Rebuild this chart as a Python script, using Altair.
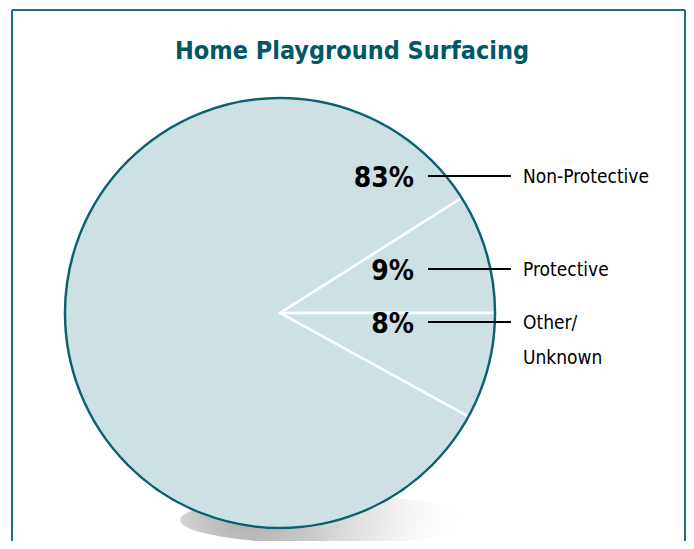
import math
import altair as alt
import pandas as pd

# ---- data ----
categories = ["Protective", "Other/Unknown", "Non-Protective"]
values = [9, 8, 83]
pct_labels = ["9%", "8%", "83%"]
legend_labels = ["Protective", "Other/\nUnknown", "Non-Protective"]
title_text = "Home Playground Surfacing"

df = pd.DataFrame({"category": categories, "value": values, "order": [0, 1, 2]})

# ---- style / layout ----
W, H = 678, 533
CX, CY, R = 272, 305, 215
FILL = "#cde0e3"
TEAL = "#0c6170"
FRAME = "#1c6e7d"
COND = "DejaVu Sans Condensed, Liberation Sans Narrow, sans-serif"

total = sum(values)
start = math.pi / 2 - 2 * math.pi * values[0] / total

base = alt.Chart(df)

pie = base.mark_arc(radius=R, fill=FILL, stroke="white", strokeWidth=2.5).encode(
    theta=alt.Theta("value:Q", stack=True,
                    scale=alt.Scale(range=[start, start + 2 * math.pi])),
    order=alt.Order("order:Q"),
    x=alt.value(CX), y=alt.value(CY),
)

one = alt.Chart(alt.Data(values=[{"k": 1}]))

outline = one.mark_arc(radius=R, theta=0, theta2=2 * math.pi, fillOpacity=0,
                       stroke=TEAL, strokeWidth=2.5).encode(
    x=alt.value(CX), y=alt.value(CY))

shadow_path = "M-1,0 A1,0.16,0,1,0,1,0 A1,0.16,0,1,0,-1,0 Z"
shadow = one.mark_point(
    shape=shadow_path, size=300 * 300, filled=True, opacity=1, strokeWidth=0,
    fill=alt.RadialGradient(
        gradient="radial", x1=0.22, y1=0.45, r1=0, x2=0.33, y2=0.45, r2=0.7,
        stops=[alt.GradientStop(color="rgba(150,150,150,0.85)", offset=0),
               alt.GradientStop(color="rgba(180,180,180,0.7)", offset=0.3),
               alt.GradientStop(color="rgba(210,210,210,0.5)", offset=0.55),
               alt.GradientStop(color="rgba(235,235,235,0.25)", offset=0.75),
               alt.GradientStop(color="rgba(255,255,255,0)", offset=0.95)]),
).encode(x=alt.value(322), y=alt.value(512))

frame = [
    one.mark_rule(color=FRAME, strokeWidth=2).encode(x=alt.value(4), x2=alt.value(677), y=alt.value(2)),
    one.mark_rule(color=FRAME, strokeWidth=2).encode(x=alt.value(4), y=alt.value(2), y2=alt.value(H)),
    one.mark_rule(color=FRAME, strokeWidth=2).encode(x=alt.value(677), y=alt.value(2), y2=alt.value(H)),
]

title = one.mark_text(text=title_text, font=COND, fontSize=25, fontWeight="bold",
                      color="#005866", align="center", baseline="alphabetic").encode(
    x=alt.value(344), y=alt.value(51))

label_y = [261, 314, 168]
layers = []
for i in range(len(categories)):
    y = label_y[i]
    layers.append(one.mark_rule(color="black", strokeWidth=2).encode(
        x=alt.value(420), x2=alt.value(503), y=alt.value(y)))
    layers.append(one.mark_text(text=pct_labels[i], font=COND, fontSize=28,
                                fontWeight="bold", color="black", align="right",
                                baseline="alphabetic").encode(x=alt.value(406), y=alt.value(y + 11)))
    layers.append(one.mark_text(text=legend_labels[i], font=COND, fontSize=19,
                                color="black", align="left", baseline="alphabetic",
                                lineBreak="\n", lineHeight=35).encode(
        x=alt.value(515), y=alt.value(y + 7)))

chart = alt.layer(*frame, shadow, pie, outline, *layers, title).properties(
    width=W, height=H, padding=0, autosize=alt.AutoSizeParams(type="none")
).configure_view(stroke=None)

chart.save("out.html", embed_options={"renderer": "svg", "actions": False})
